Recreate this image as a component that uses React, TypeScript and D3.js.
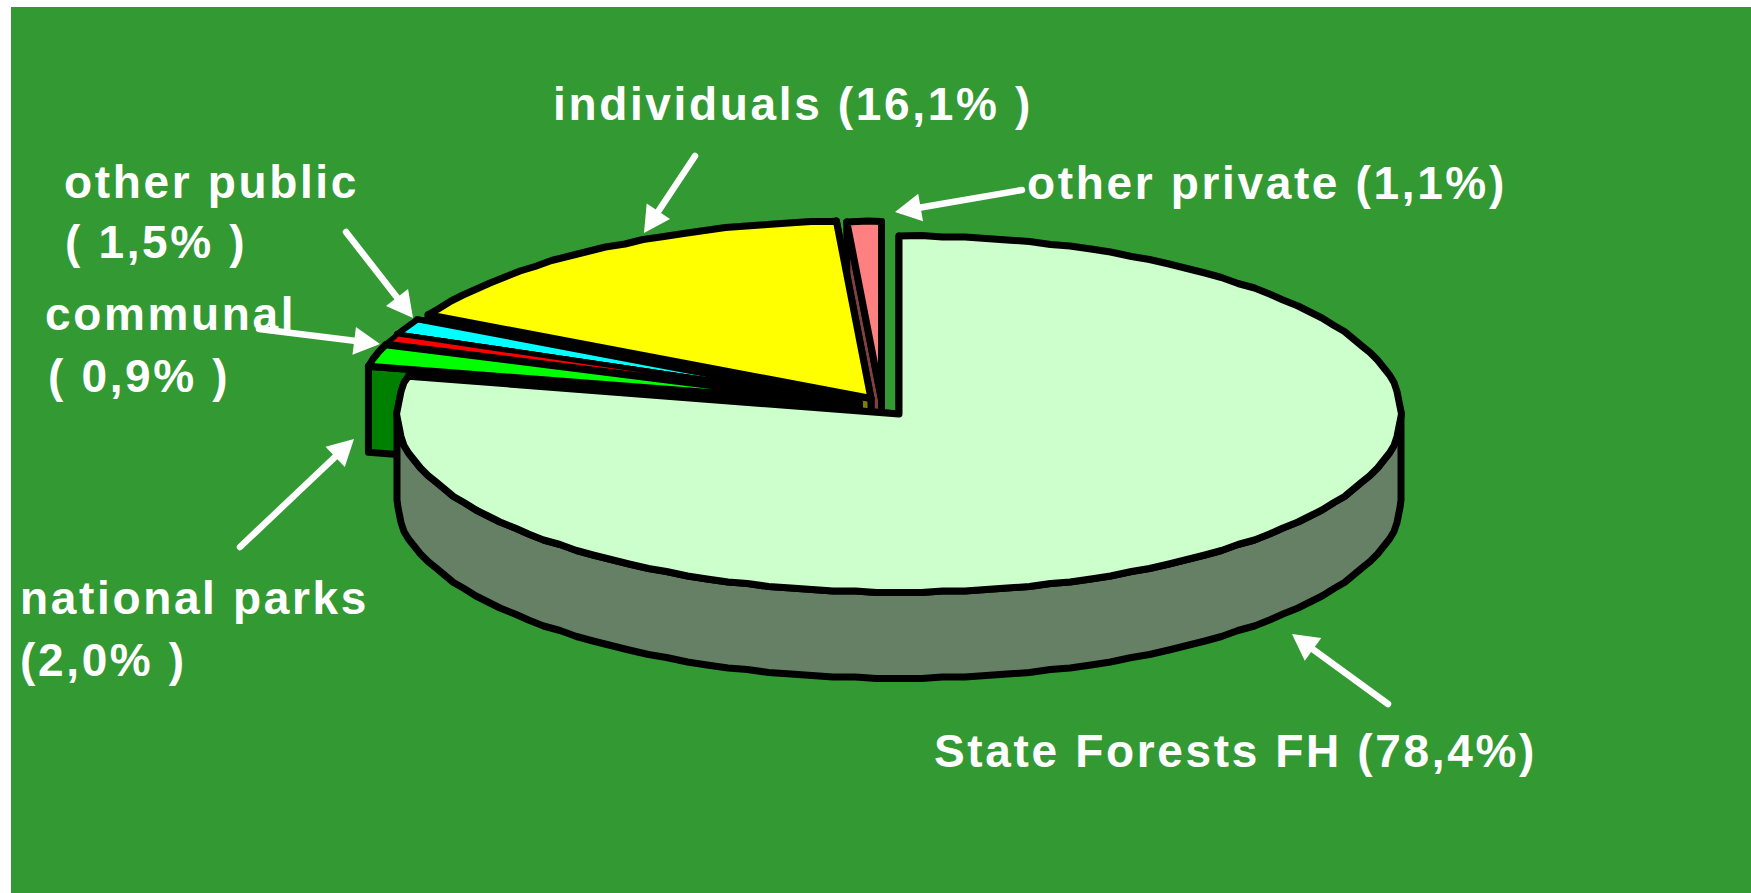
import React from "react";
import * as d3 from "d3";

// Forest ownership shares, clockwise from twelve o'clock
const owners = ["State Forests FH", "national parks", "communal", "other public", "individuals", "other private"];
const shares = [78.4, 2.0, 0.9, 1.5, 16.1, 1.1];
const fills = ["#CCFFCC", "#00FF00", "#FF0000", "#00FFFF", "#FFFF00", "#FF8080"];

const labelLines = [
  ["State Forests FH (78,4%)"],
  ["national parks", "(2,0% )"],
  ["communal", "( 0,9% )"],
  ["other public", "( 1,5% )"],
  ["individuals (16,1% )"],
  ["other private (1,1%)"],
];

const WIDTH = 1751;
const HEIGHT = 893;
const FONT_SIZE = 46;
const TRACKING = 2.65;
const CX = 899;
const CY = 414;
const RX = 502;
const RY = 178;
const DEPTH = 86;
const STEP = (2.5 * Math.PI) / 180;
const GRID = 1.5;

// Outline weight per wedge; the slimmest wedges get a lighter pen so their colour stays visible
const strokes = [7, 7, 5, 6, 7, 7];

// Pull-out of each wedge from the pie centre
const shifts: [number, number][] = [[0, 0], [-40, -10], [-39, -11.5], [-39, -11], [-28, -15.5], [-17.5, -14.5]];

// Label anchor per text line
const labelAt: [number, number][][] = [
  [[934, 767]],
  [[20, 614], [20, 676]],
  [[45, 330], [48, 392]],
  [[64, 198], [65, 258]],
  [[553, 120]],
  [[1027, 199]],
];

// Leader arrows, [tailX, tailY, tipX, tipY]
const arrows: [number, number, number, number][] = [
  [1388, 704, 1292, 634],
  [240, 547, 354, 439],
  [259, 329, 380, 344],
  [346, 232, 413, 318],
  [695, 156, 644, 233],
  [1022, 190, 895, 212],
];

const darken = (c: string) => {
  const rgb = d3.rgb(c);
  return d3.rgb(rgb.r / 2, rgb.g / 2, rgb.b / 2).formatHex();
};

const rim = (a: number): [number, number] => [RX * Math.sin(a), -RY * Math.cos(a)];

// Rim vertices snap to a coarse grid, which gives the outline its slight facets
const snap = ([x, y]: [number, number]): [number, number] => [
  Math.round(x / GRID) * GRID,
  Math.round(y / GRID) * GRID,
];

const sampleArc = (a0: number, a1: number) => {
  const angles = d3.range(a0, a1, STEP);
  angles.push(a1);
  return angles.map((a, i) => (i === 0 || i === angles.length - 1 ? rim(a) : snap(rim(a))));
};

const outline = d3.line().curve(d3.curveLinearClosed);

const arcs = d3
  .pie<number>()
  .sort(null)
  .startAngle(0)
  .endAngle(2 * Math.PI)(shares);

function Wedge({ index }: { index: number }) {
  const { startAngle, endAngle } = arcs[index];
  const [dx, dy] = shifts[index];
  const fill = fills[index];
  const wall = darken(fill);
  const apex: [number, number] = [0, 0];
  const down = (p: [number, number]): [number, number] => [p[0], p[1] + DEPTH];
  const radial = (a: number) => {
    const p = rim(a);
    return [apex, p, down(p), down(apex)] as [number, number][];
  };
  const frontStart = Math.max(startAngle, Math.PI / 2);
  const frontEnd = Math.min(endAngle, (3 * Math.PI) / 2);
  const front = frontEnd > frontStart ? sampleArc(frontStart, frontEnd) : null;
  return (
    <g
      transform={`translate(${CX + dx},${CY + dy})`}
      stroke="#000"
      strokeWidth={strokes[index]}
      strokeLinejoin="round"
    >
      <path d={outline(radial(endAngle))!} fill={wall} />
      <path d={outline(radial(startAngle))!} fill={wall} />
      {front && <path d={outline([...front, ...front.map(down).reverse()])!} fill={wall} />}
      <path d={outline([apex, ...sampleArc(startAngle, endAngle)])!} fill={fill} />
    </g>
  );
}

function Arrow({ spec }: { spec: [number, number, number, number] }) {
  const [x0, y0, x1, y1] = spec;
  const angle = Math.atan2(y1 - y0, x1 - x0);
  const ux = Math.cos(angle);
  const uy = Math.sin(angle);
  const headLen = 26;
  const headHalf = 14;
  const bx = x1 - ux * headLen;
  const by = y1 - uy * headLen;
  return (
    <g>
      <line x1={x0} y1={y0} x2={bx} y2={by} stroke="#fff" strokeWidth={6.5} strokeLinecap="round" />
      <polygon
        points={`${x1},${y1} ${bx - uy * headHalf},${by + ux * headHalf} ${bx + uy * headHalf},${by - ux * headHalf}`}
        fill="#fff"
      />
    </g>
  );
}

export default function App() {
  const paintOrder = d3.range(owners.length).reverse();
  return (
    <svg
      width={WIDTH}
      height={HEIGHT}
      viewBox={`0 0 ${WIDTH} ${HEIGHT}`}
      style={{ position: "absolute", left: 0, top: 0, display: "block", background: "#fff" }}
    >
      <rect x={11} y={7} width={WIDTH - 11} height={HEIGHT - 7} fill="#339933" />
      {paintOrder.map((i) => (
        <Wedge key={owners[i]} index={i} />
      ))}
      {arrows.map((a, i) => (
        <Arrow key={i} spec={a} />
      ))}
      <g
        fill="#fff"
        fontFamily="'Liberation Sans', Arial, sans-serif"
        fontWeight={700}
        fontSize={FONT_SIZE}
        letterSpacing={TRACKING}
      >
        {labelLines.map((lines, i) =>
          lines.map((line, j) => (
            <text key={line} x={labelAt[i][j][0]} y={labelAt[i][j][1]} xmlSpace="preserve">
              {line}
            </text>
          ))
        )}
      </g>
    </svg>
  );
}
